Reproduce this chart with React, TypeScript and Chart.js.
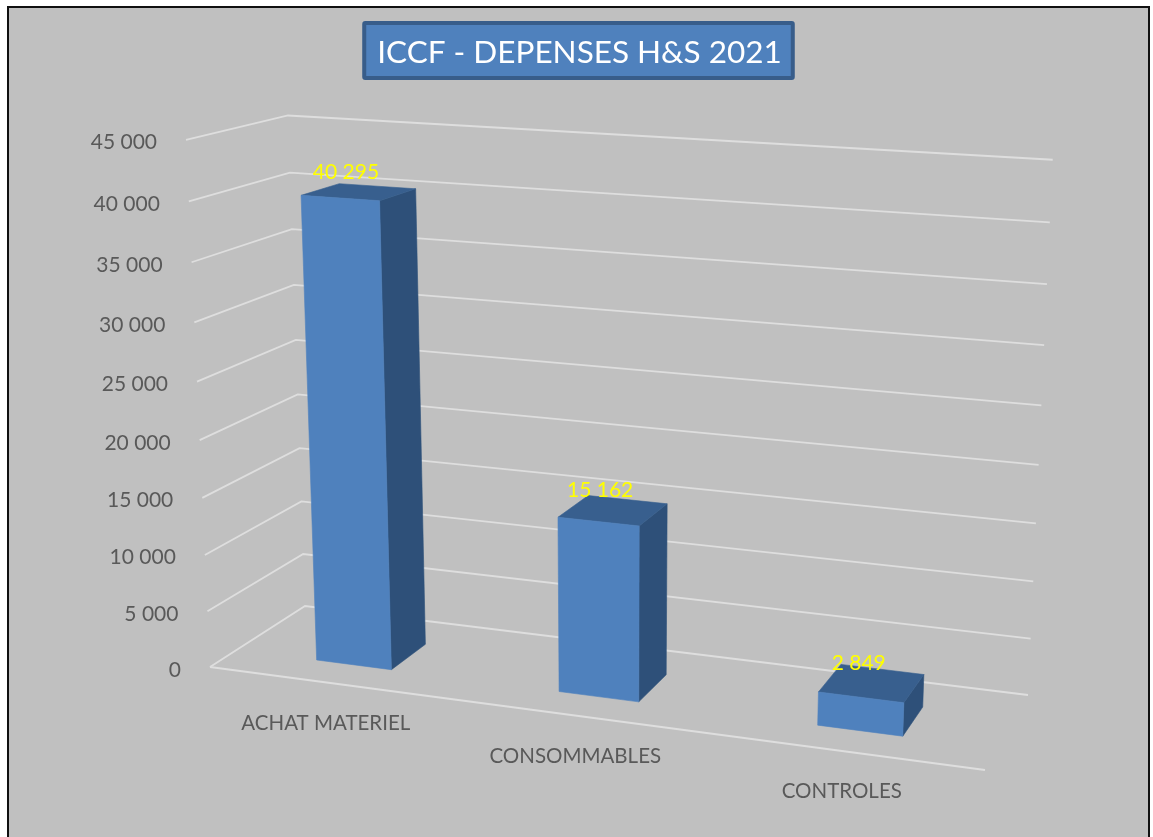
import React, { useEffect, useRef } from 'react';
import { Chart, registerables } from 'chart.js';

Chart.register(...registerables);

// ---------- data ----------
const TITLE = 'ICCF - DEPENSES H&S 2021';
const categories = ['ACHAT MATERIEL', 'CONSOMMABLES', 'CONTROLES'];
const values = [40295, 15162, 2849];
const yMin = 0;
const yMax = 45000;
const yStep = 5000;

// ---------- style ----------
const FONT = 'Lato, "Open Sans", "Noto Sans", sans-serif';
const BAR_FRONT = '#4f81bd';
const BAR_SIDE = '#2e5079';
const BAR_TOP = '#385f8e';
const GRID = '#dedede';
const AXIS_TEXT = '#595959';
const LABEL_TEXT = '#ffff00';
const DEPTH_FRONT = 0.27;
const DEPTH_BACK = 0.667;

// perspective camera: normalized (u across, v up, w depth) -> canvas px
const CAM = {
  a: 681.78, b: 118.65, c: 210, p: -34.36,
  d: 30.13, e: -14.0, f: 667, q: -535,
  g: -0.09464, h: 0.07755, r: -0.0557,
};

function project(u: number, v: number, w: number) {
  const D = 1 + CAM.g * u + CAM.h * w + CAM.r * v;
  return {
    x: (CAM.a * u + CAM.b * w + CAM.c + CAM.p * v) / D,
    y: (CAM.d * u + CAM.e * w + CAM.f + CAM.q * v) / D,
  };
}

function fmt(n: number) {
  return String(Math.round(n)).replace(/\B(?=(\d{3})+(?!\d))/g, ' ');
}

function poly(ctx: CanvasRenderingContext2D, pts: { x: number; y: number }[], fill: string) {
  ctx.beginPath();
  ctx.moveTo(pts[0].x, pts[0].y);
  for (let i = 1; i < pts.length; i++) ctx.lineTo(pts[i].x, pts[i].y);
  ctx.closePath();
  ctx.fillStyle = fill;
  ctx.fill();
  ctx.strokeStyle = fill;
  ctx.lineWidth = 0.6;
  ctx.stroke();
}

const excel3d = {
  id: 'excel3d',
  beforeDraw(chart: any) {
    const ctx: CanvasRenderingContext2D = chart.ctx;
    const W = chart.width;
    const H = chart.height;
    ctx.save();
    ctx.fillStyle = '#ffffff';
    ctx.fillRect(0, 0, W, H);
    ctx.fillStyle = '#111111';
    ctx.fillRect(7, 6, 1143, H);
    ctx.fillStyle = '#c0c0c0';
    ctx.fillRect(9, 8, 1139, H);

    // title box
    ctx.font = `31.5px ${FONT}`;
    const tw = ctx.measureText(TITLE).width;
    const cx = 578.5;
    const bw = tw + 24;
    ctx.fillStyle = '#385d8a';
    ctx.beginPath();
    ctx.roundRect(cx - bw / 2 - 2, 21, bw + 4, 59, 3);
    ctx.fill();
    ctx.fillStyle = BAR_FRONT;
    ctx.fillRect(cx - bw / 2 + 2, 25, bw - 4, 51);
    ctx.fillStyle = '#ffffff';
    ctx.textAlign = 'center';
    ctx.textBaseline = 'alphabetic';
    ctx.fillText(TITLE, cx + 1, 62.5);

    // walls / gridlines
    const ys = chart.scales.y;
    const span = ys.bottom - ys.top;
    let ticks: number[] = (ys.ticks || []).map((t: any) => t.value);
    if (!ticks.length) {
      ticks = [];
      for (let t = yMin; t <= yMax; t += yStep) ticks.push(t);
    }
    ctx.strokeStyle = GRID;
    ctx.lineWidth = 1.8;
    ctx.lineJoin = 'miter';
    ticks.forEach((t) => {
      const v = (ys.bottom - ys.getPixelForValue(t)) / span;
      const p0 = project(0, v, 0);
      const p1 = project(0, v, 1);
      const p2 = project(1, v, 1);
      ctx.beginPath();
      ctx.moveTo(p0.x, p0.y);
      ctx.lineTo(p1.x, p1.y);
      ctx.lineTo(p2.x, p2.y);
      ctx.stroke();
    });
    // floor front edge
    const f0 = project(0, 0, 0);
    const f1 = project(1, 0, 0);
    ctx.beginPath();
    ctx.moveTo(f0.x, f0.y);
    ctx.lineTo(f1.x, f1.y);
    ctx.stroke();

    // y tick labels
    ctx.font = `21px ${FONT}`;
    ctx.fillStyle = AXIS_TEXT;
    ctx.textAlign = 'right';
    ctx.textBaseline = 'alphabetic';
    ticks.forEach((t) => {
      const v = (ys.bottom - ys.getPixelForValue(t)) / span;
      const p = project(0, v, 0);
      ctx.fillText(fmt(t), p.x - 29, p.y + 9.5);
    });

    // category labels
    const xs = chart.scales.x;
    const xw = xs.right - xs.left;
    ctx.font = `20.5px ${FONT}`;
    ctx.textAlign = 'center';
    categories.forEach((c, i) => {
      const u = (xs.getPixelForValue(i) - xs.left) / xw;
      const p = project(u, 0, 0);
      ctx.fillText(c, p.x - 3, p.y + 47);
    });
    ctx.restore();
  },
  afterDatasetsDraw(chart: any) {
    const ctx: CanvasRenderingContext2D = chart.ctx;
    const xs = chart.scales.x;
    const ys = chart.scales.y;
    const xw = xs.right - xs.left;
    const span = ys.bottom - ys.top;
    const meta = chart.getDatasetMeta(0);
    ctx.save();
    meta.data.forEach((el: any, i: number) => {
      const uc = (el.x - xs.left) / xw;
      const hw = el.width / 2 / xw;
      const u0 = uc - hw;
      const u1 = uc + hw;
      const v = (ys.bottom - el.y) / span;
      const w0 = DEPTH_FRONT;
      const w1 = DEPTH_BACK;
      // side
      poly(ctx, [project(u1, 0, w0), project(u1, v, w0), project(u1, v, w1), project(u1, 0, w1)], BAR_SIDE);
      // top
      poly(ctx, [project(u0, v, w0), project(u1, v, w0), project(u1, v, w1), project(u0, v, w1)], BAR_TOP);
      // front
      poly(ctx, [project(u0, 0, w0), project(u1, 0, w0), project(u1, v, w0), project(u0, v, w0)], BAR_FRONT);
      // data label
      const pc = project(uc, v, (w0 + w1) / 2);
      ctx.font = `21px ${FONT}`;
      ctx.fillStyle = LABEL_TEXT;
      ctx.textAlign = 'center';
      ctx.textBaseline = 'alphabetic';
      ctx.fillText(fmt(values[i]), pc.x - 13, pc.y - 13);
    });
    ctx.restore();
  },
};

export default function App() {
  const ref = useRef<HTMLCanvasElement | null>(null);
  useEffect(() => {
    if (!ref.current) return;
    const chart = new Chart(ref.current, {
      type: 'bar',
      data: {
        labels: categories,
        datasets: [
          {
            label: TITLE,
            data: values,
            backgroundColor: 'rgba(0,0,0,0)',
            borderWidth: 0,
            categoryPercentage: 1,
            barPercentage: 0.315,
          },
        ],
      },
      options: {
        animation: false,
        responsive: false,
        devicePixelRatio: 1,
        layout: { padding: 0 },
        plugins: {
          legend: { display: false },
          tooltip: { enabled: false },
          title: { display: false },
        },
        scales: {
          x: { display: false, offset: true },
          y: { display: false, min: yMin, max: yMax, ticks: { stepSize: yStep } },
        },
      },
      plugins: [excel3d],
    });
    return () => chart.destroy();
  }, []);
  return (
    <div style={{ position: 'fixed', left: 0, top: 0, width: 1153, height: 837, overflow: 'hidden' }}>
      <canvas ref={ref} width={1153} height={837} style={{ display: 'block' }} />
    </div>
  );
}
